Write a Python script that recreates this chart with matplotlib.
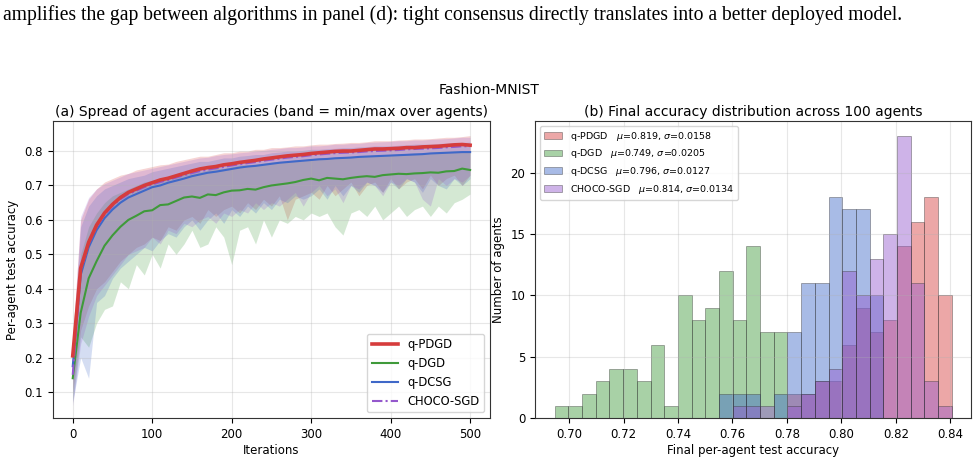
import numpy as np
import matplotlib.pyplot as plt

# ---- data ----
iters = np.arange(0, 501, 10)

pdgd_mean = [0.205, 0.46, 0.535, 0.585, 0.62, 0.645, 0.665, 0.68, 0.69, 0.70,
             0.708, 0.716, 0.721, 0.728, 0.735, 0.742, 0.748, 0.752, 0.755, 0.76,
             0.763, 0.767, 0.77, 0.773, 0.777, 0.78, 0.783, 0.786, 0.788, 0.79,
             0.793, 0.795, 0.797, 0.799, 0.80, 0.80, 0.802, 0.804, 0.806, 0.806,
             0.807, 0.808, 0.81, 0.81, 0.812, 0.813, 0.814, 0.816, 0.818, 0.819, 0.817]
pdgd_hi = [0.26, 0.60, 0.66, 0.69, 0.71, 0.72, 0.73, 0.735, 0.745, 0.75,
           0.755, 0.76, 0.762, 0.77, 0.775, 0.78, 0.785, 0.785, 0.79, 0.795,
           0.795, 0.80, 0.80, 0.805, 0.805, 0.81, 0.81, 0.812, 0.815, 0.815,
           0.818, 0.82, 0.82, 0.822, 0.823, 0.825, 0.825, 0.827, 0.83, 0.83,
           0.83, 0.832, 0.833, 0.835, 0.835, 0.836, 0.838, 0.84, 0.84, 0.842, 0.845]
pdgd_lo = [0.10, 0.28, 0.35, 0.40, 0.42, 0.45, 0.48, 0.50, 0.52, 0.53,
           0.55, 0.54, 0.58, 0.57, 0.60, 0.61, 0.59, 0.63, 0.61, 0.63,
           0.64, 0.62, 0.65, 0.63, 0.66, 0.64, 0.67, 0.60, 0.66, 0.67,
           0.68, 0.66, 0.70, 0.67, 0.69, 0.71, 0.67, 0.70, 0.71, 0.68,
           0.72, 0.69, 0.71, 0.72, 0.69, 0.73, 0.70, 0.72, 0.73, 0.70, 0.73]

dgd_mean = [0.14, 0.33, 0.43, 0.48, 0.525, 0.555, 0.58, 0.60, 0.612, 0.625,
            0.628, 0.643, 0.645, 0.655, 0.665, 0.668, 0.664, 0.674, 0.672, 0.68,
            0.685, 0.686, 0.69, 0.688, 0.695, 0.70, 0.703, 0.706, 0.71, 0.716,
            0.72, 0.715, 0.722, 0.72, 0.718, 0.722, 0.725, 0.727, 0.725, 0.73,
            0.732, 0.734, 0.733, 0.735, 0.736, 0.738, 0.737, 0.741, 0.742, 0.749, 0.745]
dgd_hi = [0.20, 0.50, 0.58, 0.62, 0.65, 0.67, 0.68, 0.69, 0.70, 0.71,
          0.715, 0.72, 0.725, 0.73, 0.735, 0.74, 0.74, 0.745, 0.75, 0.75,
          0.755, 0.76, 0.76, 0.762, 0.765, 0.768, 0.77, 0.772, 0.775, 0.775,
          0.778, 0.78, 0.78, 0.782, 0.783, 0.785, 0.785, 0.787, 0.788, 0.79,
          0.79, 0.792, 0.793, 0.795, 0.795, 0.796, 0.797, 0.798, 0.80, 0.80, 0.80]
dgd_lo = [0.07, 0.26, 0.23, 0.30, 0.34, 0.35, 0.42, 0.40, 0.47, 0.44,
          0.50, 0.46, 0.53, 0.50, 0.53, 0.57, 0.52, 0.53, 0.58, 0.55,
          0.47, 0.57, 0.58, 0.53, 0.60, 0.55, 0.60, 0.59, 0.61, 0.60,
          0.62, 0.61, 0.62, 0.58, 0.556, 0.62, 0.63, 0.61, 0.64, 0.60,
          0.62, 0.64, 0.61, 0.63, 0.64, 0.61, 0.64, 0.62, 0.65, 0.66, 0.675]

dcsg_mean = [0.175, 0.44, 0.52, 0.57, 0.605, 0.63, 0.65, 0.665, 0.675, 0.685,
             0.695, 0.70, 0.708, 0.714, 0.72, 0.727, 0.732, 0.737, 0.74, 0.744,
             0.748, 0.752, 0.755, 0.757, 0.76, 0.763, 0.766, 0.768, 0.77, 0.772,
             0.774, 0.776, 0.777, 0.779, 0.78, 0.781, 0.783, 0.784, 0.785, 0.786,
             0.787, 0.788, 0.789, 0.79, 0.791, 0.793, 0.794, 0.795, 0.796, 0.797, 0.797]
dcsg_hi = [0.22, 0.58, 0.64, 0.67, 0.69, 0.70, 0.71, 0.72, 0.725, 0.73,
           0.74, 0.745, 0.75, 0.755, 0.76, 0.765, 0.77, 0.77, 0.775, 0.78,
           0.78, 0.785, 0.787, 0.79, 0.79, 0.795, 0.797, 0.80, 0.80, 0.802,
           0.805, 0.805, 0.807, 0.808, 0.81, 0.81, 0.812, 0.813, 0.815, 0.815,
           0.815, 0.817, 0.818, 0.82, 0.82, 0.82, 0.822, 0.823, 0.825, 0.825, 0.826]
dcsg_lo = [0.07, 0.20, 0.14, 0.36, 0.38, 0.43, 0.46, 0.48, 0.50, 0.52,
           0.51, 0.54, 0.56, 0.55, 0.58, 0.60, 0.57, 0.60, 0.62, 0.59,
           0.63, 0.61, 0.64, 0.62, 0.65, 0.63, 0.66, 0.65, 0.67, 0.66,
           0.67, 0.69, 0.66, 0.70, 0.67, 0.70, 0.68, 0.71, 0.70, 0.68,
           0.71, 0.69, 0.72, 0.71, 0.68, 0.72, 0.70, 0.69, 0.72, 0.70, 0.72]

choco_mean = [0.15, 0.45, 0.53, 0.58, 0.615, 0.64, 0.66, 0.675, 0.685, 0.695,
              0.703, 0.71, 0.716, 0.723, 0.73, 0.736, 0.742, 0.746, 0.75, 0.754,
              0.758, 0.762, 0.765, 0.768, 0.772, 0.775, 0.778, 0.781, 0.783, 0.785,
              0.788, 0.79, 0.792, 0.794, 0.795, 0.796, 0.797, 0.799, 0.80, 0.801,
              0.802, 0.803, 0.805, 0.806, 0.807, 0.808, 0.809, 0.811, 0.812, 0.814, 0.814]
choco_hi = [0.25, 0.61, 0.665, 0.69, 0.705, 0.715, 0.725, 0.735, 0.74, 0.745,
            0.75, 0.755, 0.76, 0.765, 0.77, 0.775, 0.78, 0.782, 0.787, 0.79,
            0.792, 0.795, 0.797, 0.80, 0.802, 0.805, 0.807, 0.81, 0.81, 0.812,
            0.815, 0.815, 0.817, 0.82, 0.82, 0.822, 0.822, 0.825, 0.826, 0.827,
            0.828, 0.83, 0.83, 0.832, 0.832, 0.834, 0.835, 0.836, 0.838, 0.84, 0.84]
choco_lo = [0.06, 0.24, 0.32, 0.38, 0.41, 0.44, 0.47, 0.50, 0.51, 0.52,
            0.55, 0.53, 0.57, 0.56, 0.59, 0.58, 0.60, 0.61, 0.59, 0.62,
            0.61, 0.63, 0.62, 0.65, 0.63, 0.65, 0.64, 0.66, 0.68, 0.64,
            0.68, 0.70, 0.67, 0.69, 0.65, 0.70, 0.69, 0.71, 0.70, 0.67,
            0.71, 0.70, 0.72, 0.71, 0.66, 0.64, 0.72, 0.70, 0.72, 0.71, 0.73]

# final accuracy histogram (29 shared bins)
acc_lo, acc_hi = 0.6947, 0.8406
pdgd_counts = [0, 0, 0, 0, 0, 0, 0, 0, 0, 0, 0, 0, 0, 0, 0, 0, 0,
               2, 2, 3, 3, 6, 9, 7, 8, 14, 16, 18, 10]
dgd_counts = [1, 1, 2, 3, 4, 4, 3, 6, 1, 10, 8, 9, 12, 8, 14, 7, 7,
              0, 0, 0, 0, 0, 0, 0, 0, 0, 0, 0, 0]
dcsg_counts = [0, 0, 0, 0, 0, 0, 0, 0, 0, 0, 0, 0, 2, 2, 2, 0, 2,
               7, 11, 11, 18, 17, 17, 10, 0, 0, 0, 0, 0]
choco_counts = [0, 0, 0, 0, 0, 0, 0, 0, 0, 0, 0, 0, 0, 1, 1, 1, 0,
                1, 2, 3, 4, 12, 10, 13, 15, 23, 11, 3, 1]

names = ['q-PDGD', 'q-DGD', 'q-DCSG', 'CHOCO-SGD']
mus = [0.819, 0.749, 0.796, 0.814]
sigmas = [0.0158, 0.0205, 0.0127, 0.0134]
colors = ['#d63c3c', '#3f9a3a', '#3f68c8', '#9458cc']

caption = ("amplifies the gap between algorithms in panel (d): tight consensus "
           "directly translates into a better deployed model.")

# ---- figure ----
fig = plt.figure(figsize=(9.79, 4.57), dpi=100)
fig.text(0.003, 0.968, caption, family='Liberation Serif', fontsize=14.1,
         va='center', ha='left')
fig.text(0.5, 0.803, 'Fashion-MNIST', ha='center', va='center', fontsize=10)

ax1 = fig.add_axes([0.054, 0.085, 0.4465, 0.65])
ax2 = fig.add_axes([0.5465, 0.085, 0.4455, 0.65])

means = [pdgd_mean, dgd_mean, dcsg_mean, choco_mean]
his = [pdgd_hi, dgd_hi, dcsg_hi, choco_hi]
los = [pdgd_lo, dgd_lo, dcsg_lo, choco_lo]
styles = [dict(lw=2.6, ls='-'), dict(lw=1.5, ls='-'),
          dict(lw=1.5, ls='-'), dict(lw=1.5, ls=(0, (5, 1.5, 1, 1.5)))]

for i in range(4):
    ax1.fill_between(iters, los[i], his[i], color=colors[i], alpha=0.22, lw=0)
for i in range(4):
    ax1.plot(iters, means[i], color=colors[i], label=names[i], **styles[i],
             zorder=3 if i != 0 else 4)

ax1.set_xlim(-25, 525)
ax1.set_ylim(0.024, 0.887)
ax1.set_xticks([0, 100, 200, 300, 400, 500])
ax1.set_yticks(np.arange(0.1, 0.81, 0.1))
ax1.set_xlabel('Iterations', fontsize=8.5, labelpad=2)
ax1.set_ylabel('Per-agent test accuracy', fontsize=8.5)
ax1.set_title('(a) Spread of agent accuracies (band = min/max over agents)',
              fontsize=10, pad=4)
ax1.grid(True, alpha=0.3)
ax1.tick_params(labelsize=8.5)
ax1.legend(loc='lower right', fontsize=8.3, handlelength=2.3)

# histogram
edges = np.linspace(acc_lo, acc_hi, len(dgd_counts) + 1)
centers = (edges[:-1] + edges[1:]) / 2
counts = [pdgd_counts, dgd_counts, dcsg_counts, choco_counts]
for i in range(4):
    ax2.hist(centers, bins=edges, weights=counts[i], color=colors[i], alpha=0.45,
             edgecolor='#333333', linewidth=0.6,
             label=f'{names[i]}   $\\mu$={mus[i]:.3f}, $\\sigma$={sigmas[i]:.4f}')

ax2.set_xlim(0.6875, 0.8477)
ax2.set_ylim(0, 24.2)
ax2.set_xticks(np.arange(0.70, 0.841, 0.02))
ax2.set_yticks([0, 5, 10, 15, 20])
ax2.set_xlabel('Final per-agent test accuracy', fontsize=8.5, labelpad=2)
ax2.set_ylabel('Number of agents', fontsize=8.5)
ax2.set_title('(b) Final accuracy distribution across 100 agents', fontsize=10, pad=4)
ax2.grid(True, alpha=0.3)
ax2.tick_params(labelsize=8.5)
ax2.legend(loc='upper left', fontsize=6.8)

for ax in (ax1, ax2):
    for s in ax.spines.values():
        s.set_color('#333333')

fig.savefig('out.png', dpi=100)
